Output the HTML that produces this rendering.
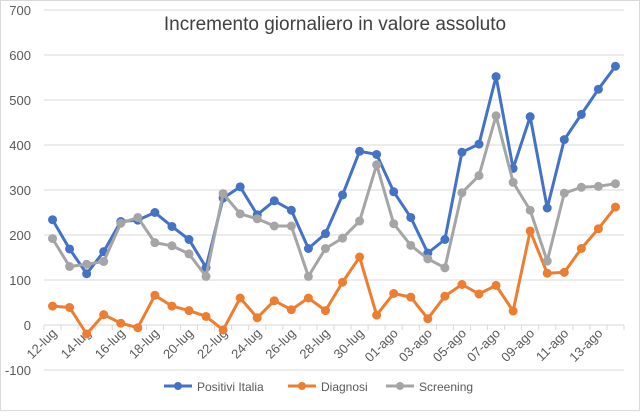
<!DOCTYPE html>
<html><head><meta charset="utf-8"><style>
body{margin:0;background:#fff;font-family:"Liberation Sans",sans-serif}
svg text{font-family:"Liberation Sans",sans-serif}
</style></head><body>
<svg id="c" width="640" height="411" viewBox="0 0 640 411">
<rect x="0.5" y="0.5" width="639" height="410" fill="#fff" stroke="#d9d9d9"/>
<text x="335" y="30" font-size="19" fill="#404040" text-anchor="middle">Incremento giornaliero in valore assoluto</text>
<g id="grid"></g><g id="series"></g>
<g>
<g><line x1="164" y1="386" x2="192" y2="386" stroke="#4472c4" stroke-width="3"/><circle cx="178" cy="386" r="4" fill="#4472c4"/><text x="197" y="391" font-size="12" fill="#595959">Positivi Italia</text></g>
<g><line x1="288" y1="386" x2="316" y2="386" stroke="#ed7d31" stroke-width="3"/><circle cx="302" cy="386" r="4" fill="#ed7d31"/><text x="321" y="391" font-size="12" fill="#595959">Diagnosi</text></g>
<g><line x1="386" y1="386" x2="414" y2="386" stroke="#a5a5a5" stroke-width="3"/><circle cx="400" cy="386" r="4" fill="#a5a5a5"/><text x="419" y="391" font-size="12" fill="#595959">Screening</text></g>
</g>
</svg>
<script>
const dates=["12-lug","13-lug","14-lug","15-lug","16-lug","17-lug","18-lug","19-lug","20-lug","21-lug","22-lug","23-lug","24-lug","25-lug","26-lug","27-lug","28-lug","29-lug","30-lug","31-lug","01-ago","02-ago","03-ago","04-ago","05-ago","06-ago","07-ago","08-ago","09-ago","10-ago","11-ago","12-ago","13-ago","14-ago"];
const positivi=[234,169,114,163,230,233,250,219,190,128,282,307,245,276,255,170,203,289,386,379,296,239,160,190,384,402,552,348,463,260,412,468,524,575];
const diagnosi=[42,39,-20,23,4,-6,66,42,32,19,-11,60,16,54,34,60,32,95,151,22,70,62,14,64,90,69,88,31,209,115,117,170,214,262];
const screening=[192,130,135,141,226,239,183,176,158,108,292,247,236,220,220,108,170,193,231,356,225,177,147,127,294,332,465,317,255,142,293,306,308,314];
const yTicks=[-100,0,100,200,300,400,500,600,700];
const NS="http://www.w3.org/2000/svg";
const x0=44,x1=624,cw=(x1-x0)/dates.length;
const X=i=>x0+cw*(i+0.5);
const Y=v=>325-v*0.45;
function mk(t,a,p){const e=document.createElementNS(NS,t);for(const k in a)e.setAttribute(k,a[k]);p.appendChild(e);return e;}
const g=document.getElementById('grid');
yTicks.forEach(v=>{
 const l=mk('line',{x1:x0,x2:x1,y1:Y(v),y2:Y(v),stroke:'#d9d9d9','stroke-width':1},g);
 
 
 const t=mk('text',{x:31,y:Y(v)+5,'font-size':13,fill:'#595959','text-anchor':'end'},g);
 t.textContent=v;
 
 
});
dates.forEach((d,i)=>{
 const tx=x0+cw*i;
 mk('line',{x1:tx,x2:tx,y1:325,y2:330,stroke:'#d9d9d9'},g);
 if(i%2===0){
  const ax=X(i)+5, ay=334;
  const t=mk('text',{x:ax,y:ay,'font-size':13,fill:'#595959','text-anchor':'end',transform:'rotate(-45 '+ax+' '+ay+')'},g);
  t.textContent=d;
  
  
 }
});
mk('line',{x1:x1,x2:x1,y1:325,y2:330,stroke:'#d9d9d9'},g);
const s=document.getElementById('series');
[[positivi,'#4472c4','positivi'],[diagnosi,'#ed7d31','diagnosi'],[screening,'#a5a5a5','screening']].forEach(([arr,c,n])=>{
 const grp=mk('g',{},s);
 
 
 const pl=mk('polyline',{points:arr.map((v,i)=>X(i)+','+Y(v)).join(' '),fill:'none',stroke:c,'stroke-width':3,'stroke-linejoin':'round'},grp);
 
 
 arr.forEach((v,i)=>{
  const p=mk('circle',{cx:X(i),cy:Y(v),r:4.5,fill:c},grp);
  
  
 });
});
</script>
</body></html>
